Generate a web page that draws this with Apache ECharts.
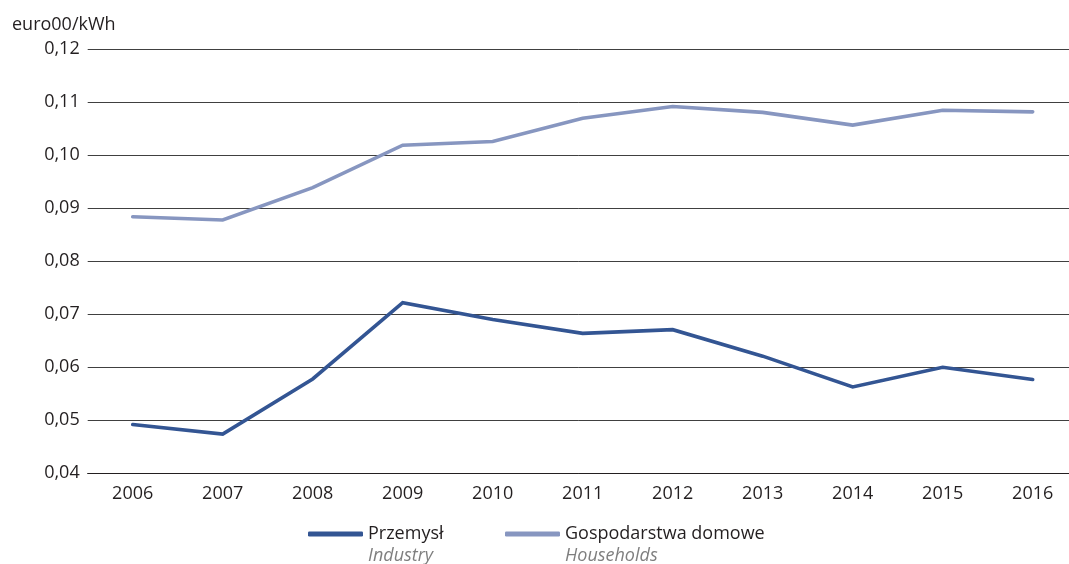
<!DOCTYPE html>
<html>
<head>
<meta charset="utf-8">
<script src="https://cdn.jsdelivr.net/npm/echarts@6/dist/echarts.min.js"></script>
<style>
html,body{margin:0;padding:0;background:#fff;}
#chart{width:1069px;height:564px;}
</style>
</head>
<body>
<div id="chart"></div>
<script>
const years = ['2006','2007','2008','2009','2010','2011','2012','2013','2014','2015','2016'];
const industry = [0.0492, 0.0474, 0.0578, 0.0722, 0.0690, 0.0664, 0.0671, 0.0621, 0.0563, 0.0600, 0.0577];
const households = [0.0884, 0.0878, 0.0939, 0.1019, 0.1026, 0.1070, 0.1092, 0.1081, 0.1057, 0.1085, 0.1082];
const yTicks = {min: 0.04, max: 0.12, interval: 0.01};
const unitLabel = 'euro00/kWh';
const names = [
  {pl: 'Przemysł', en: 'Industry'},
  {pl: 'Gospodarstwa domowe', en: 'Households'}
];

const FONT = 'Open Sans';
const chart = echarts.init(document.getElementById('chart'), null, {renderer: 'canvas'});

function legendFor(idx, left) {
  return {
    left: left, top: 520,
    data: [names[idx].pl],
    itemWidth: 55, itemHeight: 5, itemGap: 0,
    icon: 'roundRect',
    selectedMode: false,
    formatter: function (n) { return '{a|' + n + '}\n{b|' + names[idx].en + '}'; },
    textStyle: {
      padding: [22, 0, 0, 0],
      rich: {
        a: {fontFamily: FONT, fontSize: 18, color: '#231f20', lineHeight: 22},
        b: {fontFamily: FONT, fontSize: 18, fontStyle: 'italic', color: '#7f7f7f', lineHeight: 22}
      }
    }
  };
}

chart.setOption({
  animation: false,
  backgroundColor: '#fff',
  title: {
    text: unitLabel, left: 7, top: 11,
    textStyle: {fontFamily: FONT, fontSize: 18, fontWeight: 'normal', color: '#231f20'}
  },
  legend: [legendFor(0, 303), legendFor(1, 500)],
  grid: {left: 87.7, width: 990, top: 49.3, bottom: 90.7, containLabel: false, outerBoundsMode: 'none'},
  xAxis: {
    type: 'category', data: years, boundaryGap: true,
    axisLine: {show: true, lineStyle: {color: '#231f20', width: 1}},
    axisTick: {show: false},
    axisLabel: {fontFamily: FONT, fontSize: 18, color: '#231f20', margin: 12}
  },
  yAxis: {
    type: 'value', min: yTicks.min, max: yTicks.max, interval: yTicks.interval,
    axisLine: {show: false}, axisTick: {show: false},
    splitLine: {lineStyle: {color: '#404040', width: 1}},
    axisLabel: {
      fontFamily: FONT, fontSize: 18, color: '#231f20', margin: 8,
      formatter: function (v) { return v.toFixed(2).replace('.', ','); }
    }
  },
  series: [
    {
      name: names[0].pl, type: 'line', data: industry, symbol: 'none',
      color: '#335593',
      lineStyle: {color: '#335593', width: 3.6, cap: 'round', join: 'miter'}
    },
    {
      name: names[1].pl, type: 'line', data: households, symbol: 'none',
      color: '#8796c0',
      lineStyle: {color: '#8796c0', width: 3.6, cap: 'round', join: 'miter'}
    }
  ]
});
</script>
</body>
</html>
